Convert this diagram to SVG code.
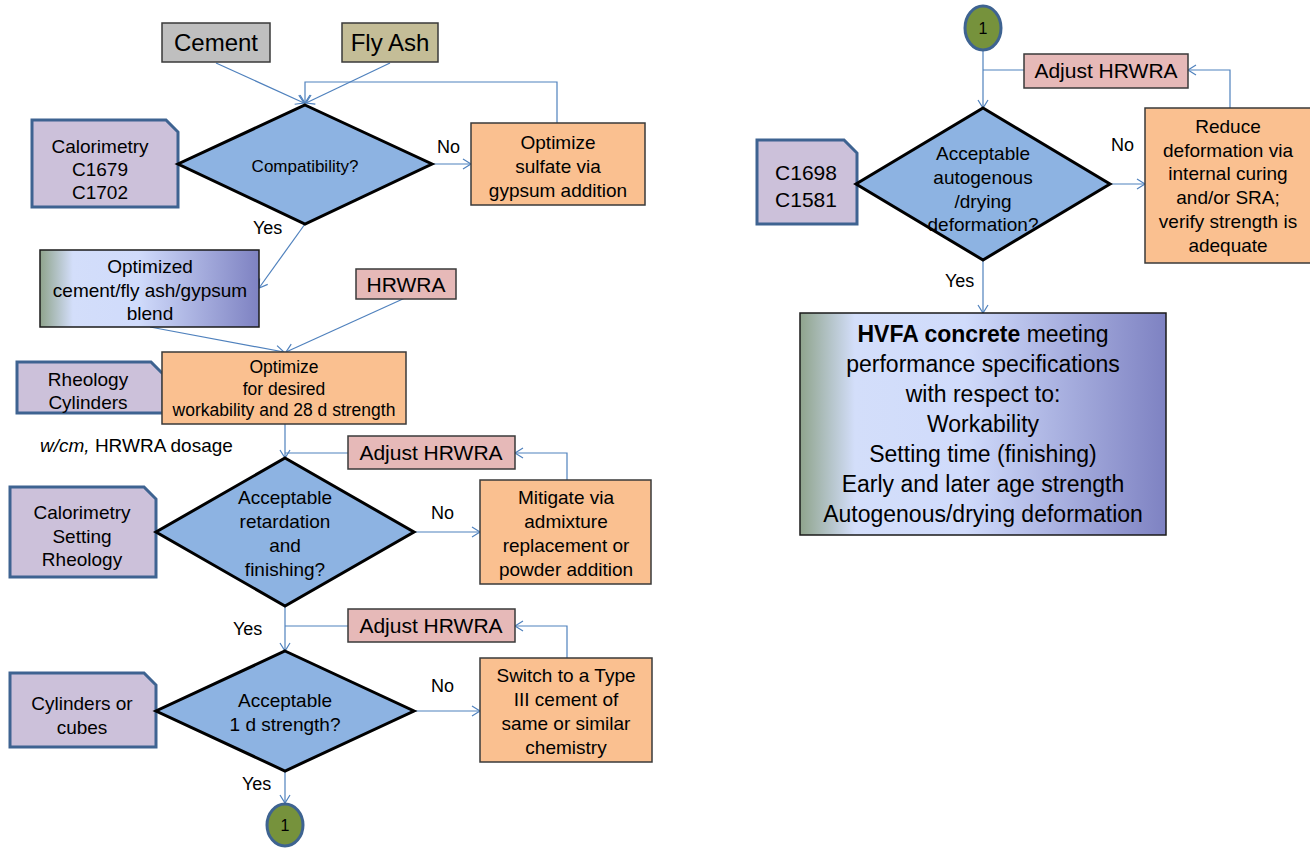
<svg xmlns="http://www.w3.org/2000/svg" width="1310" height="848" viewBox="0 0 1310 848">
<defs>
<style>
text{font-family:"Liberation Sans",Arial,sans-serif;fill:#000;text-anchor:middle}
.box{stroke:#3a3a3a;stroke-width:1.5}
.gray{fill:#bfbfbf}
.khaki{fill:#c4bd97}
.orange{fill:#fac090}
.pink{fill:#e6b9b8}
.lav{fill:#ccc1da;stroke:#3e6391;stroke-width:3}
.dia{fill:#8db3e2;stroke:#000;stroke-width:3}
.circ{fill:#76923c;stroke:#3e6391;stroke-width:3}
.grad{fill:url(#bg);stroke:#1a1a1a;stroke-width:1.5}
.c{fill:none;stroke:#4f81bd;stroke-width:1.2}
.a{marker-end:url(#arr)}
.lbl{font-size:18px;text-anchor:start}
.f19{font-size:19px}
.f21{font-size:21px}
.f24{font-size:24px}
</style>
<linearGradient id="bg" x1="0" y1="0" x2="1" y2="0">
<stop offset="0" stop-color="#8fa48c"/>
<stop offset="0.15" stop-color="#d3defa"/>
<stop offset="0.45" stop-color="#d0dbfb"/>
<stop offset="1" stop-color="#7e82c2"/>
</linearGradient>
<marker id="arr" markerWidth="12" markerHeight="12" refX="9" refY="6" orient="auto" markerUnits="userSpaceOnUse">
<path d="M1,1 L9,6 L1,11" fill="none" stroke="#4f81bd" stroke-width="1.2"/>
</marker>
</defs>

<g id="connectors">
<path class="c a" d="M216,63 L304,103"/>
<path class="c a" d="M390,63 L306,103"/>
<path class="c a" d="M557,123 V82 H305 V103"/>
<path class="c a" d="M432,164 H471"/>
<path class="c a" d="M305,224 L259,288"/>
<path class="c a" d="M150,327 L284,352"/>
<path class="c a" d="M405,298 L286,352"/>
<path class="c a" d="M285,424 V458"/>
<path class="c" d="M348,453 H285"/>
<path class="c a" d="M567,480 V453 H515"/>
<path class="c a" d="M414,532 H480"/>
<path class="c a" d="M285,606 V651"/>
<path class="c" d="M348,626 H285"/>
<path class="c a" d="M567,658 V626 H515"/>
<path class="c a" d="M414,711 H480"/>
<path class="c a" d="M285,771 V803"/>
<path class="c a" d="M983,50 V108"/>
<path class="c" d="M1024,70 H983"/>
<path class="c a" d="M1230,108 V70 H1188"/>
<path class="c a" d="M1110,184 H1145"/>
<path class="c a" d="M983,260 V313"/>
</g>

<g id="cement"><rect class="box gray" x="162" y="23" width="108" height="39"/><text class="f24" x="216" y="51">Cement</text></g>
<g id="flyash"><rect class="box khaki" x="342" y="23" width="96" height="39"/><text class="f24" x="390" y="51">Fly Ash</text></g>

<g id="calorimetry1"><path class="lav" d="M32,120 H166 L178,132 V207 H32 Z"/>
<text class="f19" x="100" y="153">Calorimetry</text><text class="f19" x="100" y="176">C1679</text><text class="f19" x="100" y="199">C1702</text></g>

<g id="compat"><path class="dia" d="M305,105 L432,164 L305,224 L178,164 Z"/>
<text x="305" y="172" style="font-size:17px">Compatibility?</text></g>
<text class="lbl" x="437" y="153">No</text>
<text class="lbl" x="253" y="234">Yes</text>

<g id="optsulfate"><rect class="box orange" x="471" y="123" width="174" height="82"/>
<text class="f19" x="558" y="149">Optimize</text><text class="f19" x="558" y="173">sulfate via</text><text class="f19" x="558" y="197">gypsum addition</text></g>

<g id="blend"><rect class="grad" x="40" y="250" width="219" height="77"/>
<text class="f19" x="150" y="273">Optimized</text><text class="f19" x="150" y="297">cement/fly ash/gypsum</text><text class="f19" x="150" y="320">blend</text></g>

<g id="hrwra"><rect class="box pink" x="356" y="269" width="100" height="30"/><text class="f21" x="406" y="292">HRWRA</text></g>

<g id="rheology"><path class="lav" d="M17,362 H151 L163,374 V413 H17 Z"/>
<text class="f19" x="88" y="386">Rheology</text><text class="f19" x="88" y="409">Cylinders</text></g>

<g id="optimize"><rect class="box orange" x="162" y="352" width="244" height="72"/>
<text x="284" y="373" style="font-size:17.5px">Optimize</text><text x="284" y="395" style="font-size:17.5px">for desired</text><text x="284" y="416" style="font-size:17.5px">workability and 28 d strength</text></g>

<text class="lbl" x="40" y="452" style="font-size:19px"><tspan font-style="italic">w/cm,</tspan> HRWRA dosage</text>

<g id="adjust1"><rect class="box pink" x="348" y="436" width="167" height="33"/><text class="f21" x="431" y="460">Adjust HRWRA</text></g>

<g id="calorimetry2"><path class="lav" d="M10,487 H144 L156,499 V577 H10 Z"/>
<text class="f19" x="82" y="519">Calorimetry</text><text class="f19" x="82" y="543">Setting</text><text class="f19" x="82" y="566">Rheology</text></g>

<g id="retard"><path class="dia" d="M285,458 L414,532 L285,606 L156,532 Z"/>
<text class="f19" x="285" y="504">Acceptable</text><text class="f19" x="285" y="528">retardation</text><text class="f19" x="285" y="552">and</text><text class="f19" x="285" y="576">finishing?</text></g>
<text class="lbl" x="431" y="519">No</text>
<text class="lbl" x="233" y="635">Yes</text>

<g id="mitigate"><rect class="box orange" x="480" y="480" width="171" height="104"/>
<text class="f19" x="566" y="504">Mitigate via</text><text class="f19" x="566" y="528">admixture</text><text class="f19" x="566" y="552">replacement or</text><text class="f19" x="566" y="576">powder addition</text></g>

<g id="adjust2"><rect class="box pink" x="348" y="609" width="167" height="33"/><text class="f21" x="431" y="633">Adjust HRWRA</text></g>

<g id="cylinders"><path class="lav" d="M10,673 H144 L156,685 V747 H10 Z"/>
<text class="f19" x="82" y="710">Cylinders or</text><text class="f19" x="82" y="734">cubes</text></g>

<g id="strength1d"><path class="dia" d="M285,651 L414,711 L285,771 L156,711 Z"/>
<text class="f19" x="285" y="707">Acceptable</text><text class="f19" x="285" y="731">1 d strength?</text></g>
<text class="lbl" x="431" y="692">No</text>
<text class="lbl" x="242" y="790">Yes</text>

<g id="switch"><rect class="box orange" x="480" y="658" width="172" height="104"/>
<text class="f19" x="566" y="682">Switch to a Type</text><text class="f19" x="566" y="706">III cement of</text><text class="f19" x="566" y="730">same or similar</text><text class="f19" x="566" y="754">chemistry</text></g>

<g id="connector1a"><ellipse class="circ" cx="285" cy="825" rx="18" ry="21"/><text x="285" y="831" style="font-size:16px">1</text></g>

<g id="connector1b"><ellipse class="circ" cx="983" cy="28" rx="18" ry="22"/><text x="983" y="34" style="font-size:16px">1</text></g>

<g id="adjust3"><rect class="box pink" x="1024" y="54" width="164" height="34"/><text class="f21" x="1106" y="78">Adjust HRWRA</text></g>

<g id="astm"><path class="lav" d="M757,140 H844 L857,153 V224 H757 Z"/>
<text class="f21" x="806" y="180">C1698</text><text class="f21" x="806" y="207">C1581</text></g>

<g id="deform"><path class="dia" d="M983,108 L1110,184 L983,260 L856,184 Z"/>
<text class="f19" x="983" y="160">Acceptable</text><text class="f19" x="983" y="184">autogenous</text><text class="f19" x="983" y="208">/drying</text><text class="f19" x="983" y="231">deformation?</text></g>
<text class="lbl" x="1111" y="151">No</text>
<text class="lbl" x="945" y="287">Yes</text>

<g id="reduce"><rect class="box orange" x="1145" y="108" width="168" height="155"/>
<text class="f19" x="1228" y="133">Reduce</text><text class="f19" x="1228" y="157">deformation via</text><text class="f19" x="1228" y="180">internal curing</text><text class="f19" x="1228" y="204">and/or SRA;</text><text class="f19" x="1228" y="228">verify strength is</text><text class="f19" x="1228" y="252">adequate</text></g>

<g id="hvfa"><rect class="grad" x="800" y="313" width="366" height="222"/>
<g style="font-size:23px">
<text x="983" y="342"><tspan font-weight="bold">HVFA concrete</tspan> meeting</text>
<text x="983" y="372">performance specifications</text>
<text x="983" y="402">with respect to:</text>
<text x="983" y="432">Workability</text>
<text x="983" y="462">Setting time (finishing)</text>
<text x="983" y="492">Early and later age strength</text>
<text x="983" y="522">Autogenous/drying deformation</text>
</g></g>
</svg>
